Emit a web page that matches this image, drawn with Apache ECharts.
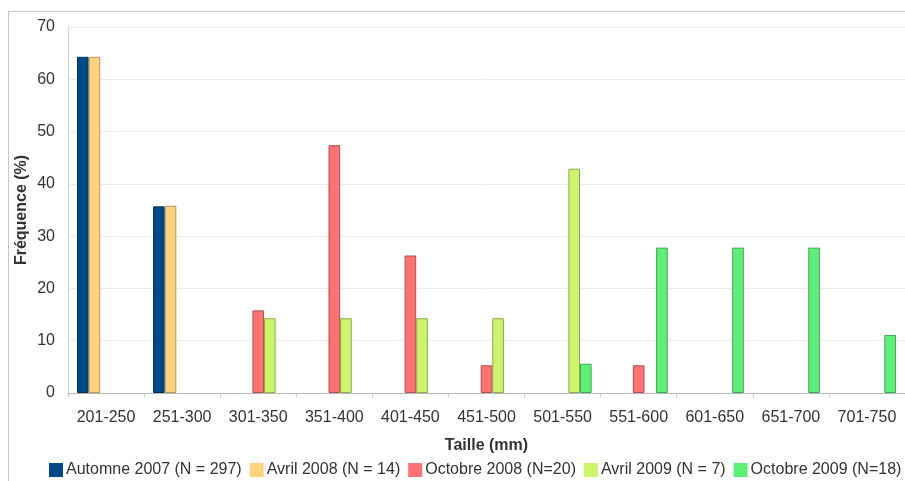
<!DOCTYPE html>
<html>
<head>
<meta charset="utf-8">
<script src="https://cdn.jsdelivr.net/npm/echarts@6/dist/echarts.min.js"></script>
<style>
html,body{margin:0;padding:0;background:#fff;}
#chart{width:905px;height:481px;}
</style>
</head>
<body>
<div id="chart"></div>
<script>
var categories = ['201-250','251-300','301-350','351-400','401-450','451-500','501-550','551-600','601-650','651-700','701-750'];
var seriesNames = ['Automne 2007 (N = 297)','Avril 2008 (N = 14)','Octobre 2008 (N=20)','Avril 2009 (N = 7)','Octobre 2009 (N=18)'];
var automne2007 = [64.3, 35.7, 0, 0, 0, 0, 0, 0, 0, 0, 0];
var avril2008   = [64.3, 35.8, 0, 0, 0, 0, 0, 0, 0, 0, 0];
var octobre2008 = [0, 0, 15.8, 47.4, 26.3, 5.3, 0, 5.3, 0, 0, 0];
var avril2009   = [0, 0, 14.3, 14.3, 14.3, 14.3, 42.9, 0, 0, 0, 0];
var octobre2009 = [0, 0, 0, 0, 0, 0, 5.6, 27.8, 27.8, 27.8, 11.1];
var yTicks = [0, 10, 20, 30, 40, 50, 60, 70];

var colors = ['#004a8c', '#ffd27c', '#ff7272', '#ccf56c', '#5cf078'];
var borders = ['#003060', '#b8955a', '#b05050', '#8ea84c', '#3fa854'];
var allData = [automne2007, avril2008, octobre2008, avril2009, octobre2009];

var font = 'Liberation Sans, Arial, sans-serif';
var chart = echarts.init(document.getElementById('chart'));
chart.setOption({
  animation: false,
  textStyle: { fontFamily: font },
  graphic: [{
    type: 'rect', silent: true, z: -1,
    shape: { x: 8.5, y: 11.5, width: 1000, height: 1000 },
    style: { fill: 'none', stroke: '#c8c8c8', lineWidth: 1 }
  }],
  legend: {
    left: 44, top: 457, width: 1400,
    itemWidth: 14, itemHeight: 14, itemGap: 8,
    icon: 'rect',
    itemStyle: { borderWidth: 0 },
    textStyle: { fontSize: 16, color: '#333', fontFamily: font, padding: [0,0,0,-2] },
    data: seriesNames
  },
  grid: { left: 68, top: 27, width: 843.7, height: 366, containLabel: false },
  xAxis: {
    type: 'category',
    data: categories,
    name: 'Taille (mm)',
    nameLocation: 'middle',
    nameGap: 45,
    nameMoveOverlap: false,
    nameTextStyle: { fontSize: 16, fontWeight: 'bold', color: '#333', fontFamily: font },
    axisLine: { lineStyle: { color: '#b8b8b8', width: 1 } },
    axisTick: { show: true, length: 4, lineStyle: { color: '#c8c8c8' } },
    axisLabel: { fontSize: 16, color: '#333', margin: 17, interval: 0, fontFamily: font },
    splitLine: { show: false }
  },
  yAxis: {
    type: 'value',
    min: yTicks[0], max: yTicks[yTicks.length - 1], interval: 10,
    name: 'Fréquence (%)',
    nameLocation: 'middle',
    nameGap: 38,
    nameMoveOverlap: false,
    nameTextStyle: { fontSize: 16, fontWeight: 'bold', color: '#333', fontFamily: font },
    axisLine: { show: true, lineStyle: { color: '#d0d0d0' } },
    axisTick: { show: false },
    axisLabel: { fontSize: 16, color: '#333', margin: 13, fontFamily: font },
    splitLine: { lineStyle: { color: '#ececec', width: 1 } }
  },
  series: allData.map(function (arr, i) {
    return {
      name: seriesNames[i],
      type: 'bar',
      barGap: 0,
      barCategoryGap: '23.7%',
      itemStyle: { color: colors[i], borderColor: borders[i], borderWidth: 1 },
      data: arr.map(function (v) { return v === 0 ? '-' : v; })
    };
  })
});
</script>
</body>
</html>
